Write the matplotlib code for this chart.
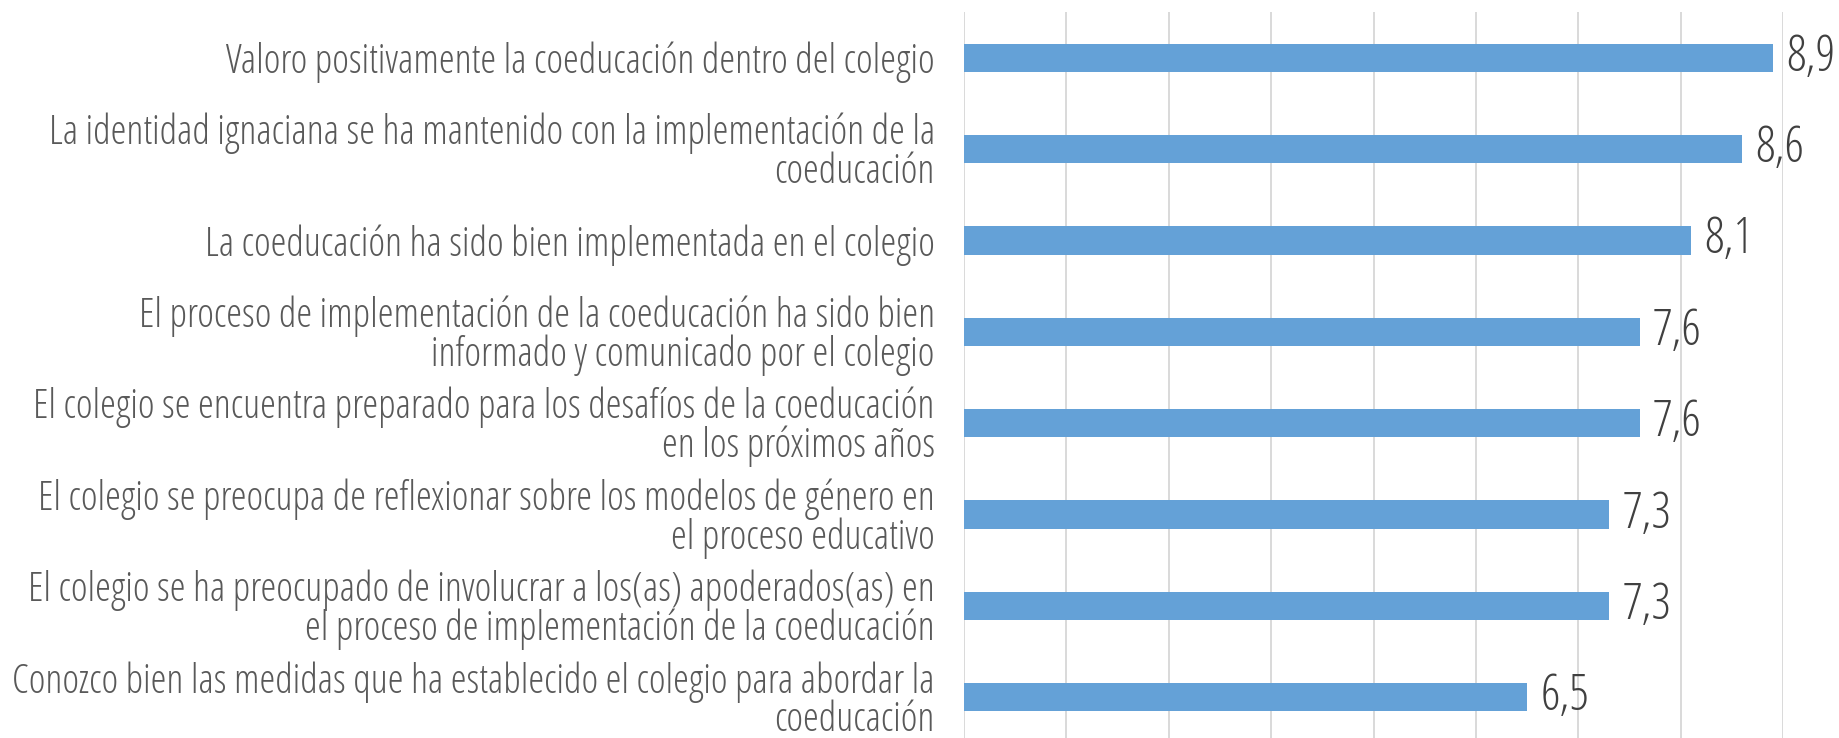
import matplotlib
matplotlib.use("Agg")
import matplotlib.pyplot as plt
from matplotlib import font_manager

# narrow light font, the reference looks like a condensed sans
have_cond = any(f.name == "Open Sans" and f.stretch == "condensed" for f in font_manager.fontManager.ttflist)
if have_cond:
    fprops = dict(family="Open Sans", stretch="condensed", weight=300)
    lab_size, val_size = 28.8, 35
else:
    fprops = dict(family="Liberation Sans")
    lab_size, val_size = 17, 26

categories = [
    "Valoro positivamente la coeducación dentro del colegio",
    "La identidad ignaciana se ha mantenido con la implementación de la\ncoeducación",
    "La coeducación ha sido bien implementada en el colegio",
    "El proceso de implementación de la coeducación ha sido bien\ninformado y comunicado por el colegio",
    "El colegio se encuentra preparado para los desafíos de la coeducación\nen los próximos años",
    "El colegio se preocupa de reflexionar sobre los modelos de género en\nel proceso educativo",
    "El colegio se ha preocupado de involucrar a los(as) apoderados(as) en\nel proceso de implementación de la coeducación",
    "Conozco bien las medidas que ha establecido el colegio para abordar la\ncoeducación",
]
values = [8.9, 8.6, 8.1, 7.6, 7.6, 7.3, 7.3, 6.5]
value_labels = ["8,9", "8,6", "8,1", "7,6", "7,6", "7,3", "7,3", "6,5"]

fig = plt.figure(figsize=(18.39, 7.38), dpi=100)
ax = fig.add_axes([0.5242, -0.0068, 0.4454, 0.9905])

ypos = list(range(len(categories)))
ax.barh(ypos, [v - 1 for v in values], left=1, height=0.31, color='#64A1D7', zorder=3)

for y, v, lab in zip(ypos, values, value_labels):
    ax.text(v + 0.13, y, lab, va='center', ha='left', fontsize=val_size, color='#404040', **fprops)

ax.set_xlim(1, 9)
ax.set_ylim(7.5, -0.5)
ax.set_xticks(range(1, 10))
ax.set_xticklabels([])
ax.tick_params(axis='x', length=0)
ax.tick_params(axis='y', length=0, pad=21)
ax.set_yticks(ypos)
ax.set_yticklabels(categories, fontsize=lab_size, color='#595959', ha='right', linespacing=0.92, **fprops)
ax.grid(axis='x', color='#D9D9D9', linewidth=1.4, zorder=0)
for s in ax.spines.values():
    s.set_visible(False)

fig.savefig("out.png", dpi=100)
